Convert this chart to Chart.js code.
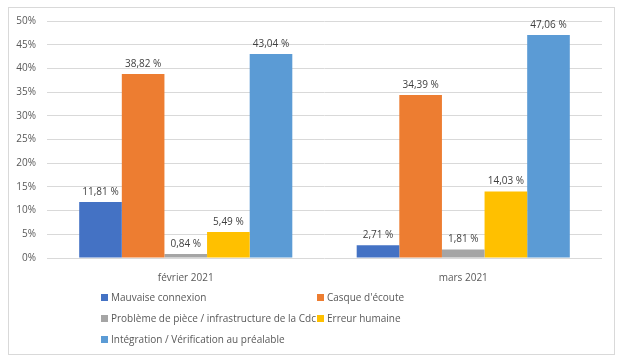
<!DOCTYPE html>
<html>
<head>
<meta charset="utf-8">
<script src="https://cdn.jsdelivr.net/npm/chart.js@4"></script>
<style>
  html, body { margin: 0; padding: 0; background: #fff; }
  body { width: 624px; height: 362px; position: relative; overflow: hidden; font-family: "Open Sans", "Noto Sans", sans-serif; }
  .box { position: absolute; left: 8px; top: 7px; width: 605px; height: 346px; border: 1px solid #d9d9d9; }
  .box canvas { position: absolute; left: 0; top: 0; }
  .legend { position: absolute; left: 0; top: 283px; width: 605px; font-size: 10px; color: #595959; }
  .legend .item { position: absolute; white-space: nowrap; line-height: 12px; }
  .legend .sw { display: inline-block; width: 7px; height: 7px; margin-right: 3px; vertical-align: 0px; }
</style>
</head>
<body>
<div class="box">
  <canvas id="chart" width="605" height="346"></canvas>
  <div class="legend" id="legend"></div>
</div>
<script>
const categories = ["février 2021", "mars 2021"];
const seriesNames = [
  "Mauvaise connexion",
  "Casque d'écoute",
  "Problème de pièce / infrastructure de la Cdc",
  "Erreur humaine",
  "Intégration / Vérification au préalable",
];
const seriesColors = ["#4472C4", "#ED7D31", "#A5A5A5", "#FFC000", "#5B9BD5"];
const mauvaiseConnexion = [11.81, 2.71];
const casqueEcoute = [38.82, 34.39];
const problemePiece = [0.84, 1.81];
const erreurHumaine = [5.49, 14.03];
const integration = [43.04, 47.06];
const yTicks = [0, 5, 10, 15, 20, 25, 30, 35, 40, 45, 50];

const seriesValues = [mauvaiseConnexion, casqueEcoute, problemePiece, erreurHumaine, integration];
const fontFamily = "'Open Sans', 'Noto Sans', sans-serif";

// labels "11,81 %" above each bar
const valueLabels = {
  id: "valueLabels",
  afterDatasetsDraw(chart) {
    const ctx = chart.ctx;
    ctx.save();
    ctx.font = "10px " + fontFamily;
    ctx.fillStyle = "#404040";
    ctx.textAlign = "center";
    ctx.textBaseline = "bottom";
    chart.data.datasets.forEach((ds, i) => {
      chart.getDatasetMeta(i).data.forEach((bar, j) => {
        const txt = ds.data[j].toFixed(2).replace(".", ",") + " %";
        ctx.fillText(txt, bar.x, bar.y - 5);
      });
    });
    ctx.restore();
  },
};

new Chart(document.getElementById("chart"), {
  type: "bar",
  data: {
    labels: categories,
    datasets: seriesNames.map((name, i) => ({
      label: name,
      data: seriesValues[i],
      backgroundColor: seriesColors[i],
      borderWidth: 0,
    })),
  },
  options: {
    responsive: false,
    animation: false,
    layout: { padding: { left: 0, right: 12, top: 13, bottom: 66 } },
    datasets: { bar: { barPercentage: 1, categoryPercentage: 0.768 } },
    plugins: { legend: { display: false }, tooltip: { enabled: false } },
    scales: {
      x: {
        grid: { display: false },
        border: { display: false },
        ticks: { color: "#595959", font: { size: 10, family: fontFamily }, padding: 6 },
        afterFit(scale) { scale.height = 30; },
      },
      y: {
        min: 0,
        max: 50,
        afterBuildTicks(scale) { scale.ticks = yTicks.map((v) => ({ value: v })); },
        grid: { color: "#d9d9d9", drawTicks: true, tickLength: 11, tickColor: "rgba(0,0,0,0)" },
        border: { display: false },
        ticks: {
          color: "#595959",
          font: { size: 10, family: fontFamily },
          padding: 0,
          callback: (v) => v + "%",
        },
        afterFit(scale) { scale.width = 38; },
      },
    },
  },
  plugins: [valueLabels],
});

// legend laid out in two columns like the original
const legendPos = [
  [92, 0], [308, 0],
  [92, 21], [308, 21],
  [92, 42],
];
const legendEl = document.getElementById("legend");
seriesNames.forEach((name, i) => {
  const item = document.createElement("div");
  item.className = "item";
  item.style.left = legendPos[i][0] + "px";
  item.style.top = legendPos[i][1] + "px";
  item.innerHTML = '<span class="sw" style="background:' + seriesColors[i] + '"></span>';
  item.appendChild(document.createTextNode(name));
  legendEl.appendChild(item);
});
</script>
</body>
</html>
